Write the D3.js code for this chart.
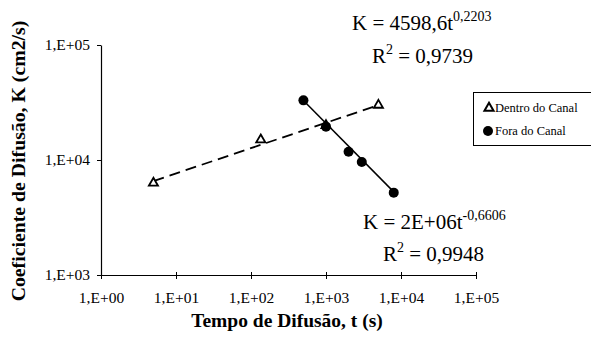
<!DOCTYPE html>
<html>
<head>
<meta charset="utf-8">
<script src="https://cdn.jsdelivr.net/npm/d3@7"></script>
<style>
  body { margin: 0; background: #fff; }
  svg { display: block; }
</style>
</head>
<body>
<svg id="chart" width="591" height="339"></svg>
<script>
// Coeficiente de difusão vs tempo (log-log)
const dentroT = [5, 135, 1000, 5000];
const dentroK = [6300, 15000, 20000, 30000];
const foraT = [500, 1000, 2000, 3000, 8000];
const foraK = [33000, 19500, 11800, 9600, 5200];

// power trend lines K = a * t^b, as shown on the chart
const dentroFit = [4598.6, 0.2203];
const foraFit = [2e6, -0.6606];

const xMajors = [1, 1e1, 1e2, 1e3, 1e4, 1e5];
const yMajors = [1e3, 1e4, 1e5];
const legendNames = ["Dentro do Canal", "Fora do Canal"];

const serif = '"Liberation Serif", "Times New Roman", serif';
const svg = d3.select('#chart');

const x = d3.scaleLog().domain([1, 1e5]).range([101, 476]);
const y = d3.scaleLog().domain([1e3, 1e5]).range([275, 45]);

const fmt = d => "1,E+" + String(Math.round(Math.log10(d))).padStart(2, "0");

const minors = (majors) => {
  const out = [];
  for (let i = 0; i < majors.length - 1; i++)
    for (let k = 2; k <= 9; k++) out.push(majors[i] * k);
  return out;
}

// x axis
const xg = svg.append('g').attr('transform', `translate(0,${y(1e3)})`);
xg.call(d3.axisBottom(x).tickValues(minors(xMajors)).tickSize(3).tickFormat(''));
xg.call(d3.axisBottom(x).tickValues(xMajors).tickSizeInner(4).tickSizeOuter(0).tickPadding(13).tickFormat(fmt));
xg.selectAll('.tick line').filter(d => xMajors.includes(d)).attr('y1', -3);

// y axis
const yg = svg.append('g').attr('transform', `translate(${x(1)},0)`);
yg.call(d3.axisLeft(y).tickValues(minors(yMajors)).tickSize(3).tickFormat(''));
yg.call(d3.axisLeft(y).tickValues(yMajors).tickSizeInner(4).tickSizeOuter(0).tickPadding(7).tickFormat(fmt));

svg.selectAll('g').attr('font-family', null);
svg.selectAll('.tick text').style('font-size', '15.5px').attr('fill', '#000');
svg.selectAll('.tick line, .domain').attr('stroke', '#000');
svg.selectAll('.domain').attr('stroke-width', 1.2);

// trend lines
const trend = (ts, fit) => {
  const ext = d3.extent(ts);
  return ext.map(t => [x(t), y(fit[0] * Math.pow(t, fit[1]))]);
}
const line = d3.line();
svg.append('path')
  .attr('d', line(trend(dentroT, dentroFit)))
  .attr('fill', 'none')
  .attr('stroke', '#000')
  .attr('stroke-width', 1.8)
  .attr('stroke-dasharray', '11,6');
svg.append('path')
  .attr('d', line(trend(foraT, foraFit)))
  .attr('fill', 'none')
  .attr('stroke', '#000')
  .attr('stroke-width', 1.5);

// markers
const tri = d3.symbol(d3.symbolTriangle, 36);
svg.append('g').selectAll('path')
  .data(dentroT.map((t, i) => [t, dentroK[i]]))
  .enter().append('path')
  .attr('d', tri)
  .attr('transform', d => `translate(${x(d[0])},${y(d[1])})`)
  .attr('fill', '#fff')
  .attr('stroke', '#000')
  .attr('stroke-width', 1.8);

svg.append('g').selectAll('circle')
  .data(foraT.map((t, i) => [t, foraK[i]]))
  .enter().append('circle')
  .attr('cx', d => x(d[0]))
  .attr('cy', d => y(d[1]))
  .attr('r', 5)
  .attr('fill', '#000');

// equations
function equation(px, py, main, sup) {
  const t = svg.append('text').attr('x', px).attr('y', py).style('font-size', '21px');
  t.append('tspan').text(main);
  t.append('tspan').text(sup).style('font-size', '14px').attr('dy', -9);
}
function rsq(px, py, val) {
  const t = svg.append('text').attr('x', px).attr('y', py).style('font-size', '21px');
  t.append('tspan').text('R');
  t.append('tspan').text('2').style('font-size', '14px').attr('dy', -9);
  t.append('tspan').text(' = ' + val).attr('dy', 9);
}
equation(352, 30, 'K = 4598,6t', '0,2203');
rsq(372, 63, '0,9739');
equation(363, 229, 'K = 2E+06t', '-0,6606');
rsq(383, 261, '0,9948');

// axis titles
svg.append('text')
  .attr('x', 287).attr('y', 327)
  .attr('text-anchor', 'middle')
  .style('font-size', '19.5px').style('font-weight', 'bold')
  .text('Tempo de Difusão, t (s)');
svg.append('text')
  .attr('transform', 'translate(25,161) rotate(-90)')
  .attr('text-anchor', 'middle')
  .style('font-size', '19.8px').style('font-weight', 'bold')
  .text('Coeficiente de Difusão, K (cm2/s)');

// legend
const lg = svg.append('g');
lg.append('rect')
  .attr('x', 473.5).attr('y', 92.5)
  .attr('width', 130).attr('height', 53)
  .attr('fill', '#fff').attr('stroke', '#000');
lg.append('path')
  .attr('d', tri)
  .attr('transform', 'translate(489,108)')
  .attr('fill', '#fff').attr('stroke', '#000').attr('stroke-width', 2);
lg.append('circle').attr('cx', 488).attr('cy', 131).attr('r', 5).attr('fill', '#000');
lg.selectAll('text').data(legendNames).enter().append('text')
  .attr('x', 495)
  .attr('y', (d, i) => 112 + i * 23)
  .style('font-size', '12.5px')
  .text(d => d);

svg.selectAll('text').style('font-family', serif);
</script>
</body>
</html>
